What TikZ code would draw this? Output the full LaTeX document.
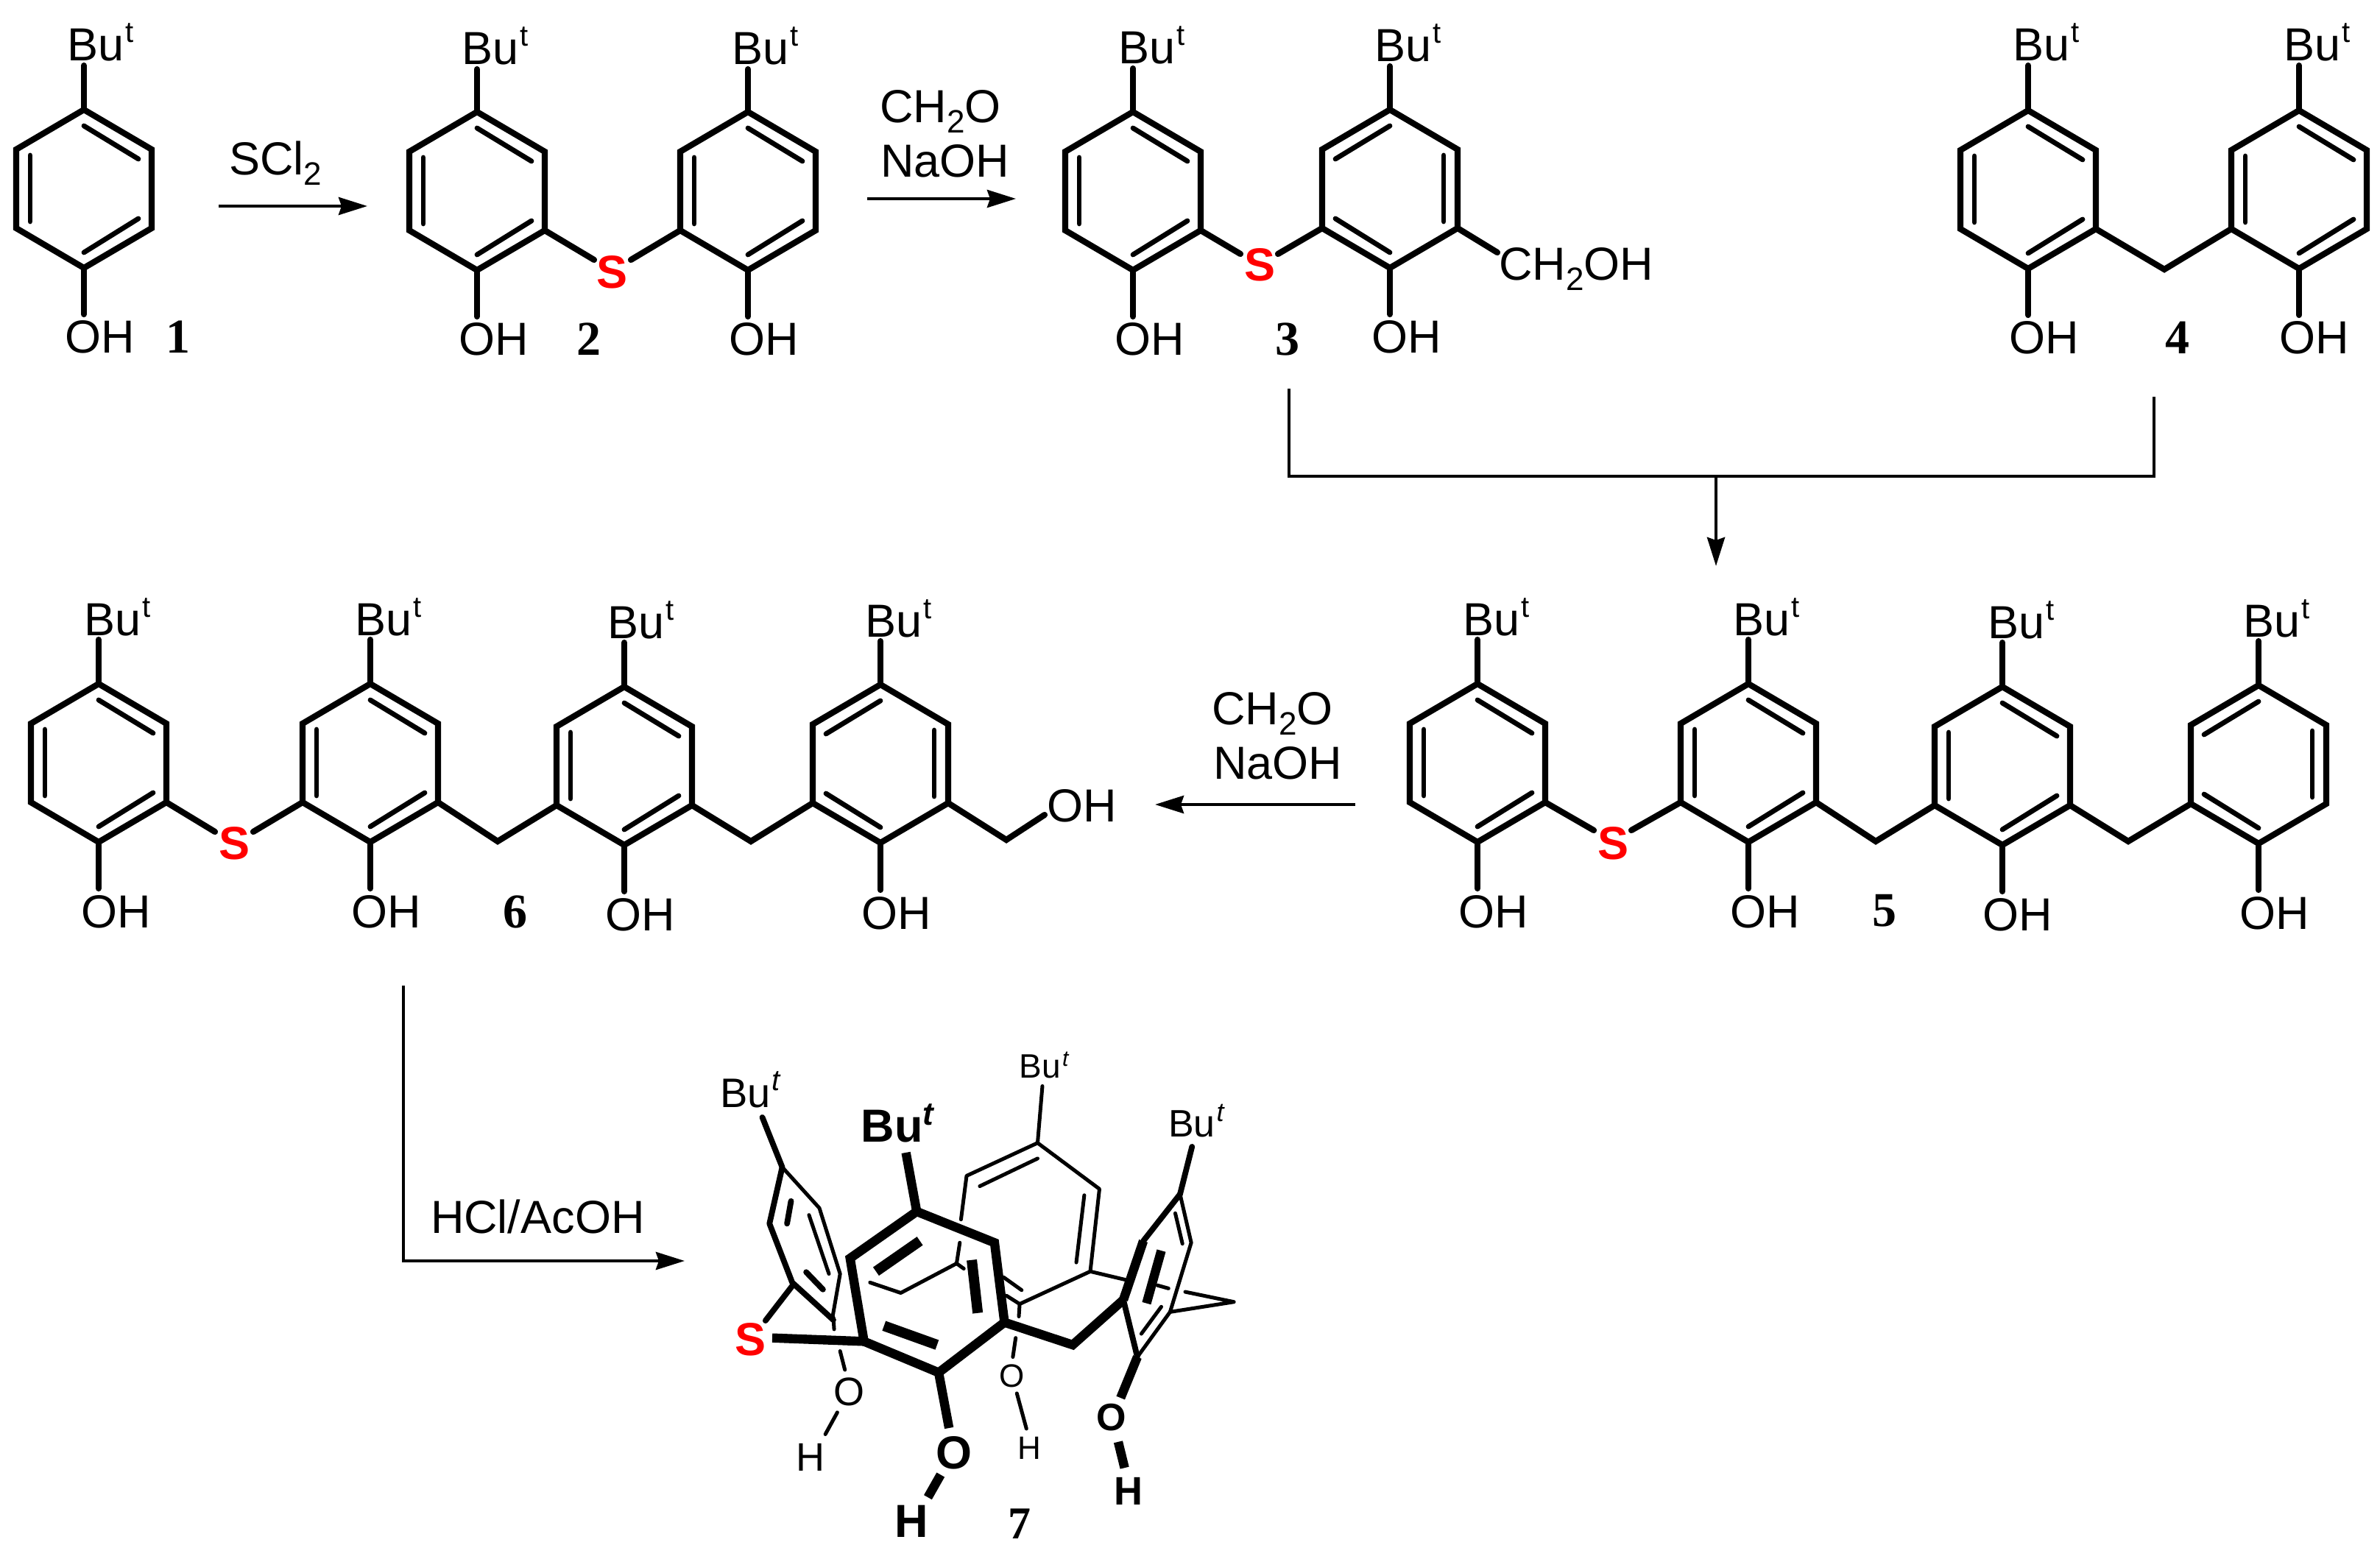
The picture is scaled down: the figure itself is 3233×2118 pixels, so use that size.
\documentclass[tikz,border=0pt]{standalone}
\usepackage{fontspec}
\setmainfont{Liberation Sans}
\newfontfamily\numfont{Liberation Serif}
\usetikzlibrary{arrows.meta}
\newcommand\fsz[1]{\fontsize{#1}{#1}\selectfont}
\newcommand\tsup{\raisebox{12.5pt}{\fsz{20}t}}
\newcommand\butext{Bu\kern1pt\tsup}
\newcommand\subtwo{\raisebox{-7pt}{\fsz{22}2}}
\tikzset{
  bond/.style={line width=4.1pt,line join=miter},
  stem/.style={line width=4.1pt,line cap=round},
  inbond/.style={line width=3.4pt,line cap=round},
  arrowline/.style={line width=2.3pt,-{Stealth[length=19.5pt,width=12pt,inset=2pt]}},
  plainline/.style={line width=2.3pt,line join=miter},
  lab/.style={inner sep=0pt,outer sep=0pt,anchor=base west,xshift=-2pt,font=\fsz{31.5}},
  num/.style={inner sep=0pt,outer sep=0pt,anchor=base,font=\numfont\bfseries\fsz{33}},
  sulfur/.style={inner sep=0pt,outer sep=0pt,anchor=base,text={rgb,255:red,255;green,0;blue,0},font=\bfseries\fsz{31.5}},
  thickb/.style={line width=6.2pt,line join=miter},
  widerb/.style={line width=7pt},
  medb/.style={line width=3.9pt,line cap=round,line join=round},
  thinb/.style={line width=2.5pt,line cap=round,line join=round},
}
% hexagon frame: name, top x, top y
\newcommand\ringframe[3]{%
  \coordinate (#1t) at (#2,#3);
  \coordinate (#1ur) at (#2+92,#3+54);
  \coordinate (#1lr) at (#2+92,#3+161);
  \coordinate (#1b) at (#2,#3+215);
  \coordinate (#1ll) at (#2-92,#3+161);
  \coordinate (#1ul) at (#2-92,#3+54);
  \draw[bond] (#1t) -- (#1ur) -- (#1lr) -- (#1b) -- (#1ll) -- (#1ul) -- cycle;
}
\newcommand\ringA[3]{%
  \ringframe{#1}{#2}{#3}
  \draw[inbond] (#2-73,#3+62) -- (#2-73,#3+152);
  \draw[inbond] (#2,#3+22) -- (#2+74,#3+67);
  \draw[inbond] (#2+74,#3+148) -- (#2,#3+194);
}
\newcommand\ringB[3]{%
  \ringframe{#1}{#2}{#3}
  \draw[inbond] (#2+73,#3+62) -- (#2+73,#3+152);
  \draw[inbond] (#2,#3+22) -- (#2-74,#3+67);
  \draw[inbond] (#2-74,#3+148) -- (#2,#3+194);
}
% Bu and OH groups: name, top x, Bu left, Bu baseline, OH left, OH baseline
\newcommand\groups[6]{%
  \node[lab] (#1bu) at (#3,#4) {\butext};
  \node[lab] (#1oh) at (#5,#6) {OH};
  \coordinate (#1us) at (#2,#4+6);
  \coordinate (#1ds) at (#2,#6-53);
  \draw[stem] (#1t) -- (#1us);
  \draw[stem] (#1b) -- (#1ds);
}
\begin{document}
\begin{tikzpicture}[x=0.5pt,y=-0.5pt]
\useasboundingbox (0,0) rectangle (3233,2118);
% ---------- 1
\ringA{ra}{114}{149}
\groups{ra}{114}{95}{83}{92}{480}
\node[num] (n1) at (242,480) {1};
% ---------- arrow 1
\coordinate (a1s) at (297,280); \coordinate (a1e) at (499,280);
\draw[arrowline] (a1s) -- (a1e);
\node[lab] (l1) at (315,238) {SCl\subtwo};
% ---------- 2
\ringA{rb}{648}{152}
\ringA{rc}{1016}{152}
\groups{rb}{648}{631}{88}{627}{483}
\groups{rc}{1016}{998}{88}{994}{483}
\node[sulfur] (s2) at (831,392) {S};
\coordinate (s2l) at (807,353); \coordinate (s2r) at (857,353);
\draw[stem] (rblr) -- (s2l);
\draw[stem] (rcll) -- (s2r);
\node[num] (n2) at (800,483) {2};
% ---------- arrow 2
\coordinate (a2s) at (1178,270); \coordinate (a2e) at (1380,270);
\draw[arrowline] (a2s) -- (a2e);
\node[lab] (l2a) at (1199,167) {CH\subtwo O};
\node[lab] (l2b) at (1200,241) {NaOH};
% ---------- 3
\ringA{rd}{1539}{152}
\ringB{re}{1888}{149}
\groups{rd}{1539}{1523}{87}{1518}{483}
\groups{re}{1888}{1871}{84}{1867}{480}
\node[sulfur] (s3) at (1711,382) {S};
\coordinate (s3l) at (1685,345); \coordinate (s3r) at (1736,345);
\draw[stem] (rdlr) -- (s3l);
\draw[stem] (rell) -- (s3r);
\node[lab] (ch3) at (2040,381) {CH\subtwo OH};
\coordinate (ch3b) at (2034,343);
\draw[stem] (relr) -- (ch3b);
\node[num] (n3) at (1749,483) {3};
% ---------- 4
\ringA{rf}{2755}{150}
\ringA{rg}{3123}{150}
\groups{rf}{2755}{2738}{83}{2733}{481}
\groups{rg}{3123}{3106}{83}{3100}{481}
\coordinate (c4) at (2940,366);
\draw[bond] (rflr) -- (c4) -- (rgll);
\node[num] (n4) at (2958,481) {4};
% ---------- merge arrow
\coordinate (m1) at (1751,528); \coordinate (m2) at (1751,647);
\coordinate (m3) at (2926,647); \coordinate (m4) at (2926,539);
\coordinate (m5) at (2331,647); \coordinate (m6) at (2331,769);
\draw[plainline] (m1) -- (m2) -- (m3) -- (m4);
\draw[arrowline] (m5) -- (m6);
% ---------- 5
\ringA{rh}{2007}{929}
\ringA{ri}{2375}{929}
\ringA{rj}{2720}{933}
\ringB{rk}{3068}{931}
\groups{rh}{2007}{1991}{863}{1985}{1260}
\groups{ri}{2375}{2358}{863}{2354}{1260}
\groups{rj}{2720}{2704}{867}{2697}{1264}
\groups{rk}{3068}{3051}{865}{3046}{1262}
\node[sulfur] (s5) at (2191,1167) {S};
\coordinate (s5l) at (2165,1128); \coordinate (s5r) at (2216,1128);
\draw[stem] (rhlr) -- (s5l);
\draw[stem] (rill) -- (s5r);
\coordinate (c5a) at (2548,1143); \coordinate (c5b) at (2891,1143);
\draw[bond] (rilr) -- (c5a) -- (rjll);
\draw[bond] (rjlr) -- (c5b) -- (rkll);
\node[num] (n5) at (2560,1258) {5};
% ---------- arrow 3
\coordinate (a3s) at (1841,1093); \coordinate (a3e) at (1569,1093);
\draw[arrowline] (a3s) -- (a3e);
\node[lab] (l3a) at (1650,984) {CH\subtwo O};
\node[lab] (l3b) at (1652,1058) {NaOH};
% ---------- 6
\ringA{rl}{134}{929}
\ringA{rm}{503}{929}
\ringA{rn}{848}{933}
\ringB{ro}{1196}{930}
\groups{rl}{134}{118}{863}{114}{1260}
\groups{rm}{503}{486}{863}{481}{1260}
\groups{rn}{848}{829}{867}{826}{1264}
\groups{ro}{1196}{1179}{865}{1174}{1262}
\node[sulfur] (s6) at (319,1167) {S};
\coordinate (s6l) at (292,1130); \coordinate (s6r) at (344,1130);
\draw[stem] (rllr) -- (s6l);
\draw[stem] (rmll) -- (s6r);
\coordinate (c6a) at (676,1143); \coordinate (c6b) at (1020,1143);
\coordinate (c6c) at (1367,1141); \coordinate (c6d) at (1419,1107);
\draw[bond] (rmlr) -- (c6a) -- (rnll);
\draw[bond] (rnlr) -- (c6b) -- (roll);
\draw[bond,line cap=round] (rolr) -- (c6c) -- (c6d);
\node[lab] (oh6) at (1426,1116) {OH};
\node[num] (n6) at (700,1260) {6};
% ---------- arrow 4
\coordinate (a4s) at (548,1339); \coordinate (a4c) at (548,1713); \coordinate (a4e) at (930,1713);
\draw[arrowline,line join=miter] (a4s) -- (a4c) -- (a4e);
\node[lab] (l4) at (589,1675) {HCl/AcOH};
% ---------- 7 (local coordinates)
\begin{scope}[shift={(900,1380)},x=0.2710pt,y=-0.2353pt]
  % back ring (thin)
  \draw[thinb] (748,588) -- (762,462) -- (940,367) -- (1095,500) -- (1072,738) -- (895,832) -- (862,808);
  \draw[thinb] (795,492) -- (940,412);
  \draw[thinb] (1057,518) -- (1037,712);
  \draw[thinb] (855,755) -- (900,792);
  \draw[thinb] (952,203) -- (940,367);
  \node[lab,font=\fsz{23}] (bu7b) at (902,180) {Bu\kern1pt\raisebox{8pt}{\fsz{15}\itshape t}};
  % back ring pieces behind the front ring
  \draw[thinb] (745,655) -- (737,715) -- (755,730);
  \draw[thinb] (520,770) -- (597,800) -- (737,715);
  % bridge at the back right
  \draw[thinb] (1072,738) -- (1160,762);
  \draw[thinb] (1240,778) -- (1268,787);
  \draw[thinb] (1310,797) -- (1432,826) -- (1272,855);
  % OH on back ring
  \draw[thinb] (895,832) -- (893,868);
  \draw[thinb] (885,930) -- (878,985);
  \node[inner sep=0pt,font=\fsz{22}] (o7b) at (875,1040) {O};
  \draw[thinb] (888,1090) -- (912,1192);
  \node[lab,font=\fsz{22}] (h7b) at (897,1280) {H};
  % left ring
  \draw[medb] (300,437) -- (268,600) -- (325,770) -- (428,878);
  \draw[thinb] (300,437) -- (393,555) -- (445,745) -- (426,870);
  \draw[thinb] (428,870) -- (430,905);
  \draw[medb] (322,535) -- (312,600);
  \draw[thinb] (367,575) -- (417,745);
  \draw[medb] (360,740) -- (402,790);
  \draw[medb] (250,293) -- (300,437);
  \node[lab,font=\fsz{28}] (bu7l) at (152,265) {Bu\kern1pt\raisebox{11.8pt}{\fsz{20}\itshape t}};
  % left OH
  \draw[thinb] (445,968) -- (457,1022);
  \node[inner sep=0pt,font=\fsz{27}] (o7l) at (468,1085) {O};
  \draw[thinb] (438,1145) -- (408,1208);
  \node[lab,font=\fsz{27}] (h7l) at (342,1315) {H};
  % sulfur
  \node[sulfur] (s7) at (220,980) {S};
  \draw[medb] (325,780) -- (258,880);
  \draw[thickb] (505,940) -- (275,930);
  % right ring
  \draw[medb] (1297,515) -- (1205,650);
  \draw[thickb] (1205,650) -- (1155,820);
  \draw[medb] (1155,820) -- (1190,985);
  \draw[thinb] (1190,985) -- (1272,855) -- (1325,655) -- (1297,515);
  \draw[thickb] (1250,678) -- (1213,830);
  \draw[thinb] (1285,570) -- (1303,658);
  \draw[thinb] (1250,840) -- (1200,918);
  \draw[medb] (1327,378) -- (1297,515);
  \node[lab,font=\fsz{26}] (bu7r) at (1275,350) {Bu\kern1pt\raisebox{10.5pt}{\fsz{18}\itshape t}};
  \draw[thickb] (1190,985) -- (1148,1103);
  \node[inner sep=0pt,font=\bfseries\fsz{26}] (o7r) at (1125,1160) {O};
  \draw[thickb] (1142,1230) -- (1158,1305);
  \node[lab,font=\bfseries\fsz{27}] (h7r) at (1140,1412) {H};
  % front ring
  \draw[thickb] (637,565) -- (832,655) -- (857,885) -- (692,1030) -- (505,940) -- (470,700) -- cycle;
  \draw[widerb] (645,650) -- (535,738);
  \draw[widerb] (775,705) -- (790,858);
  \draw[widerb] (555,895) -- (688,950);
  \draw[thickb] (610,395) -- (637,565);
  \node[lab,font=\bfseries\fsz{31.5}] (bu7f) at (505,365) {Bu\raisebox{11.5pt}{\fsz{22}\itshape t}};
  \draw[thickb] (692,1030) -- (718,1190);
  \node[inner sep=0pt,font=\bfseries\fsz{31.5}] (o7f) at (730,1262) {O};
  \draw[thickb] (697,1325) -- (665,1390);
  \node[lab,font=\bfseries\fsz{31.5}] (h7f) at (590,1505) {H};
  % front bridge
  \draw[thickb] (857,885) -- (1028,950) -- (1155,820);
  \node[num,font=\numfont\bfseries\fsz{31}] (n7) at (895,1510) {7};
\end{scope}
\end{tikzpicture}
\end{document}
